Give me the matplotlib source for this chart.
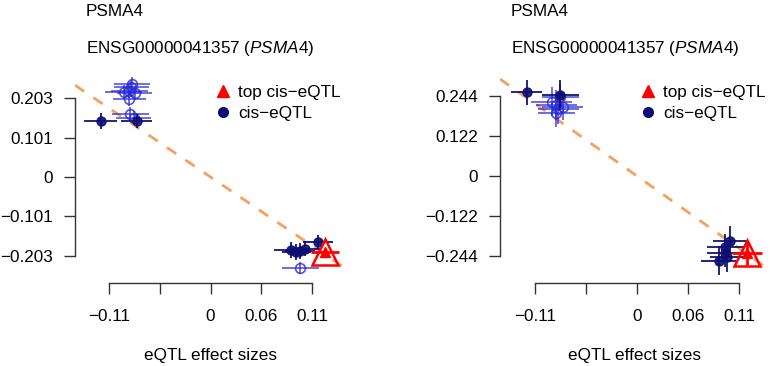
import matplotlib.pyplot as plt
from matplotlib.lines import Line2D

plt.rcParams['font.family'] = ['Liberation Sans', 'DejaVu Sans']
plt.rcParams['mathtext.fontset'] = 'custom'
plt.rcParams['mathtext.rm'] = 'Liberation Sans'
plt.rcParams['mathtext.it'] = 'Liberation Sans:italic'

gene = 'PSMA4'
gene_id = 'ENSG00000041357'
x_ticks = [-0.11, -0.055, 0, 0.055, 0.11]
x_labels = ['\u22120.11', '', '0', '0.06', '0.11']

# left panel
l_filled_x = [-0.119, -0.080, 0.087, 0.093, 0.097, 0.102, 0.116]
l_filled_y = [0.144, 0.144, -0.188, -0.193, -0.190, -0.184, -0.166]
l_filled_xe = [0.018, 0.017, 0.018, 0.016, 0.016, 0.016, 0.016]
l_filled_ye = [0.021, 0.018, 0.020, 0.020, 0.020, 0.020, 0.018]
l_open_x = [-0.085, -0.094, -0.088, -0.082, -0.088, -0.086, -0.087, -0.083, 0.097]
l_open_y = [0.239, 0.219, 0.221, 0.216, 0.200, 0.232, 0.162, 0.152, -0.234]
l_open_xe = [0.019, 0.020, 0.020, 0.019, 0.018, 0.019, 0.020, 0.019, 0.020]
l_open_ye = [0.018, 0.018, 0.018, 0.018, 0.018, 0.018, 0.018, 0.018, 0.016]
l_top = (0.124, -0.193, 0.015, 0.010)
l_yticks = [0.203, 0.101, 0, -0.101, -0.203]
l_ylabels = ['0.203', '0.101', '0', '\u22120.101', '\u22120.203']
l_slope = -1.61

# right panel
r_filled_x = [-0.119, -0.083, 0.100, 0.095, 0.095, 0.088, 0.097]
r_filled_y = [0.255, 0.247, -0.197, -0.216, -0.236, -0.258, -0.248]
r_filled_xe = [0.017, 0.020, 0.018, 0.020, 0.020, 0.019, 0.018]
r_filled_ye = [0.038, 0.045, 0.045, 0.040, 0.040, 0.045, 0.045]
r_open_x = [-0.092, -0.087, -0.080, -0.087, -0.085, -0.083]
r_open_y = [0.227, 0.216, 0.211, 0.193, 0.204, 0.240]
r_open_xe = [0.022, 0.022, 0.022, 0.020, 0.022, 0.020]
r_open_ye = [0.045, 0.045, 0.040, 0.045, 0.045, 0.040]
r_top = (0.119, -0.236, 0.016, 0.035)
r_yticks = [0.244, 0.122, 0, -0.122, -0.244]
r_ylabels = ['0.244', '0.122', '0', '\u22120.122', '\u22120.244']
r_slope = -2.0

W, H = 777, 366
fig = plt.figure(figsize=(W / 100, H / 100), dpi=100)

navy = '#0d0d73'
blue = '#2a2ad6'


def panel(x0, xlim, ylim, fx, fy, fxe, fye, ox, oy, oxe, oye, top, yticks, ylabels, slope):
    ax = fig.add_axes([x0 / W, 1 - 283 / H, 270 / W, 211 / H])
    ax.set_xlim(*xlim)
    ax.set_ylim(*ylim)
    ax.plot(list(xlim), [slope * xlim[0], slope * xlim[1]], ls=(0, (4, 4)),
            color='#f4a15e', lw=2, zorder=1)
    ax.errorbar(ox, oy, xerr=oxe, yerr=oye, fmt='o', ms=7, mfc='none', mec=blue,
                mew=1.2, ecolor=blue, elinewidth=1.2, alpha=0.8, zorder=2)
    ax.errorbar(fx, fy, xerr=fxe, yerr=fye, fmt='o', ms=6.5, mfc=navy, mec=navy,
                ecolor=navy, elinewidth=1.4, alpha=0.9, zorder=3)
    tx, ty, txe, tye = top
    ax.errorbar([tx], [ty], xerr=[txe], yerr=[tye], fmt='^', ms=7, color='red',
                elinewidth=2, zorder=4)
    ax.plot([tx], [ty], marker='^', ms=19, mfc='none', mec='red', mew=1.8, zorder=4)
    for s in ['top', 'right']:
        ax.spines[s].set_visible(False)
    ax.spines['left'].set_bounds(yticks[-1], yticks[0])
    ax.spines['bottom'].set_bounds(x_ticks[0], x_ticks[-1])
    for s in ['left', 'bottom']:
        ax.spines[s].set_color('#333333')
        ax.spines[s].set_linewidth(1)
    ax.set_xticks(x_ticks)
    ax.set_xticklabels(x_labels)
    ax.set_yticks(yticks)
    ax.set_yticklabels(ylabels)
    ax.tick_params(length=8, width=1, color='#333333', labelsize=12.3, pad=8)
    ax.tick_params(axis='x', pad=11)
    ax.set_xlabel('eQTL effect sizes', fontsize=12.3, labelpad=17)
    handles = [Line2D([], [], marker='^', color='red', ls='none', ms=8),
               Line2D([], [], marker='o', color=navy, ls='none', ms=7)]
    ax.legend(handles, ['top cis\u2212eQTL', 'cis\u2212eQTL'], frameon=False,
              loc='upper left', bbox_to_anchor=((x0 + 129) / W, 1 - 76 / H),
              bbox_transform=fig.transFigure, fontsize=12.3, handletextpad=0.3,
              labelspacing=0.35, handlelength=1.2, borderpad=0)
    fig.text((x0 + 11) / W, 1 - 11 / H, gene, fontsize=12.3, va='center')
    fig.text((x0 + 11) / W, 1 - 48 / H, gene_id + ' ($\\it{' + gene + '}$)',
             fontsize=12.3, va='center')
    return ax


panel(75, (-0.1467, 0.1455), (-0.2725, 0.270), l_filled_x, l_filled_y, l_filled_xe,
      l_filled_ye, l_open_x, l_open_y, l_open_xe, l_open_ye, l_top, l_yticks,
      l_ylabels, l_slope)
panel(500, (-0.1478, 0.1435), (-0.326, 0.317), r_filled_x, r_filled_y, r_filled_xe,
      r_filled_ye, r_open_x, r_open_y, r_open_xe, r_open_ye, r_top, r_yticks,
      r_ylabels, r_slope)

fig.savefig('out.png', dpi=100)
